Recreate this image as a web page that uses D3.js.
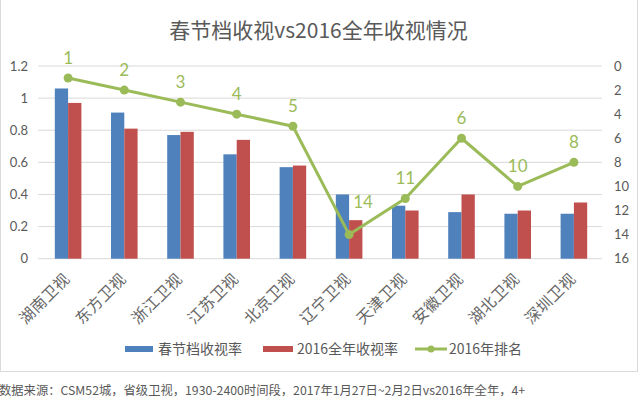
<!DOCTYPE html>
<html><head><meta charset="utf-8">
<script src="https://cdn.jsdelivr.net/npm/d3@7"></script>
<style>html,body{margin:0;padding:0;background:#fff;}svg{display:block;}</style>
</head><body>
<svg id="c" width="639" height="399"></svg>
<script>
const categories = ["湖南卫视","东方卫视","浙江卫视","江苏卫视","北京卫视","辽宁卫视","天津卫视","安徽卫视","湖北卫视","深圳卫视"];
const springRating = [1.06,0.91,0.77,0.65,0.57,0.40,0.33,0.29,0.28,0.28];
const yearRating = [0.97,0.81,0.79,0.74,0.58,0.24,0.30,0.40,0.30,0.35];
const rank2016 = [1,2,3,4,5,14,11,6,10,8];
const leftTicks = [0,0.2,0.4,0.6,0.8,1,1.2];
const rightTicks = [0,2,4,6,8,10,12,14,16];
const seriesNames = ["春节档收视率","2016全年收视率","2016年排名"];
const colors = ["#4F81BD","#C0504D","#9BBB59"];
const title = "春节档收视vs2016全年收视情况";
const footnote = "数据来源：CSM52城，省级卫视，1930-2400时间段，2017年1月27日~2月2日vs2016年全年，4+";

const svg = d3.select("#c");
const cjk = "'Noto Sans CJK SC','Noto Sans',sans-serif";
const num = "Lato,'Open Sans',sans-serif";
const L = 40, R = 602, T = 66, B = 258.7;

svg.append("rect").attr("x",0.5).attr("y",-2).attr("width",637).attr("height",373.5)
  .attr("fill","none").attr("stroke","#d9d9d9");

const x = d3.scaleBand().domain(categories).range([L,R]).paddingInner(0.527).paddingOuter(0.2635);
const xs = d3.scaleBand().domain([0,1]).range([0,x.bandwidth()]);
const y = d3.scaleLinear().domain([0,1.2]).range([B,T]);
const y2 = d3.scaleLinear().domain([0,16]).range([T,B]);

// grid
svg.append("g").selectAll("line").data(leftTicks).join("line")
  .attr("x1",L-2).attr("x2",R).attr("y1",d=>y(d)).attr("y2",d=>y(d))
  .attr("stroke","#d9d9d9").attr("stroke-width",1);

// left axis
const la = svg.append("g").attr("transform",`translate(28,0)`)
  .call(d3.axisLeft(y).tickValues(leftTicks).tickSize(0).tickPadding(0).tickFormat(d3.format("")));
la.select(".domain").remove();
la.selectAll("text").attr("font-family",num).attr("font-size",13).attr("fill","#595959");

// right axis
const ra = svg.append("g").attr("transform",`translate(614,0)`)
  .call(d3.axisRight(y2).tickValues(rightTicks).tickSize(0).tickPadding(0));
ra.select(".domain").remove();
ra.selectAll("text").attr("font-family",num).attr("font-size",13).attr("fill","#595959");

// bars
[springRating, yearRating].forEach((arr,si)=>{
  svg.append("g").selectAll("rect").data(arr).join("rect")
    .attr("x",(d,i)=>x(categories[i])+xs(si))
    .attr("width",xs.bandwidth())
    .attr("y",d=>y(d)).attr("height",d=>y(0)-y(d))
    .attr("fill",colors[si]);
});

// line
const cx = i => x(categories[i]) + x.bandwidth()/2;
const line = d3.line().x((d,i)=>cx(i)).y(d=>y2(d));
svg.append("path").datum(rank2016).attr("d",line).attr("fill","none")
  .attr("stroke",colors[2]).attr("stroke-width",3).attr("stroke-linejoin","round");
svg.append("g").selectAll("circle").data(rank2016).join("circle")
  .attr("cx",(d,i)=>cx(i)).attr("cy",d=>y2(d)).attr("r",4.5).attr("fill",colors[2]);
svg.append("g").selectAll("text").data(rank2016).join("text")
  .attr("x",(d,i)=>cx(i) + (d===14?14:0))
  .attr("y",d=>y2(d) + (d===14?-33:-20) + 6)
  .attr("text-anchor","middle").attr("font-family",num).attr("font-size",17)
  .attr("fill",colors[2]).text(d=>d);

// x labels
svg.append("g").selectAll("text").data(categories).join("text")
  .attr("transform",(d)=>`translate(${x(d)+x.bandwidth()/2-1},${276}) rotate(-45)`)
  .attr("text-anchor","end").attr("dy","0.35em").attr("letter-spacing","0.5px")
  .attr("font-family",cjk).attr("font-size",15.5).attr("fill","#666666").text(d=>d);

// title
svg.append("text").attr("x",318.5).attr("y",38).attr("text-anchor","middle")
  .attr("font-family",cjk).attr("font-size",21).attr("fill","#595959").text(title);

// legend
const lg = svg.append("g");
const ly = 349;
lg.append("rect").attr("x",125).attr("y",ly-3).attr("width",28).attr("height",6).attr("fill",colors[0]);
lg.append("text").attr("x",158).attr("y",ly).attr("dy","0.35em").attr("font-family",cjk).attr("font-size",14).attr("fill","#595959").text(seriesNames[0]);
lg.append("rect").attr("x",263).attr("y",ly-3).attr("width",30).attr("height",6).attr("fill",colors[1]);
lg.append("text").attr("x",297).attr("y",ly).attr("dy","0.35em").attr("font-family",cjk).attr("font-size",14).attr("fill","#595959").text(seriesNames[1]);
lg.append("line").attr("x1",415).attr("x2",447).attr("y1",ly).attr("y2",ly).attr("stroke",colors[2]).attr("stroke-width",3);
lg.append("circle").attr("cx",431).attr("cy",ly).attr("r",3.5).attr("fill",colors[2]);
lg.append("text").attr("x",449).attr("y",ly).attr("dy","0.35em").attr("font-family",cjk).attr("font-size",14).attr("fill","#595959").text(seriesNames[2]);

// footnote
svg.append("text").attr("x",-1).attr("y",391).attr("dy","0.35em")
  .attr("font-family",cjk).attr("font-size",12.3).attr("fill","#595959").text(footnote);
</script>
</body></html>
